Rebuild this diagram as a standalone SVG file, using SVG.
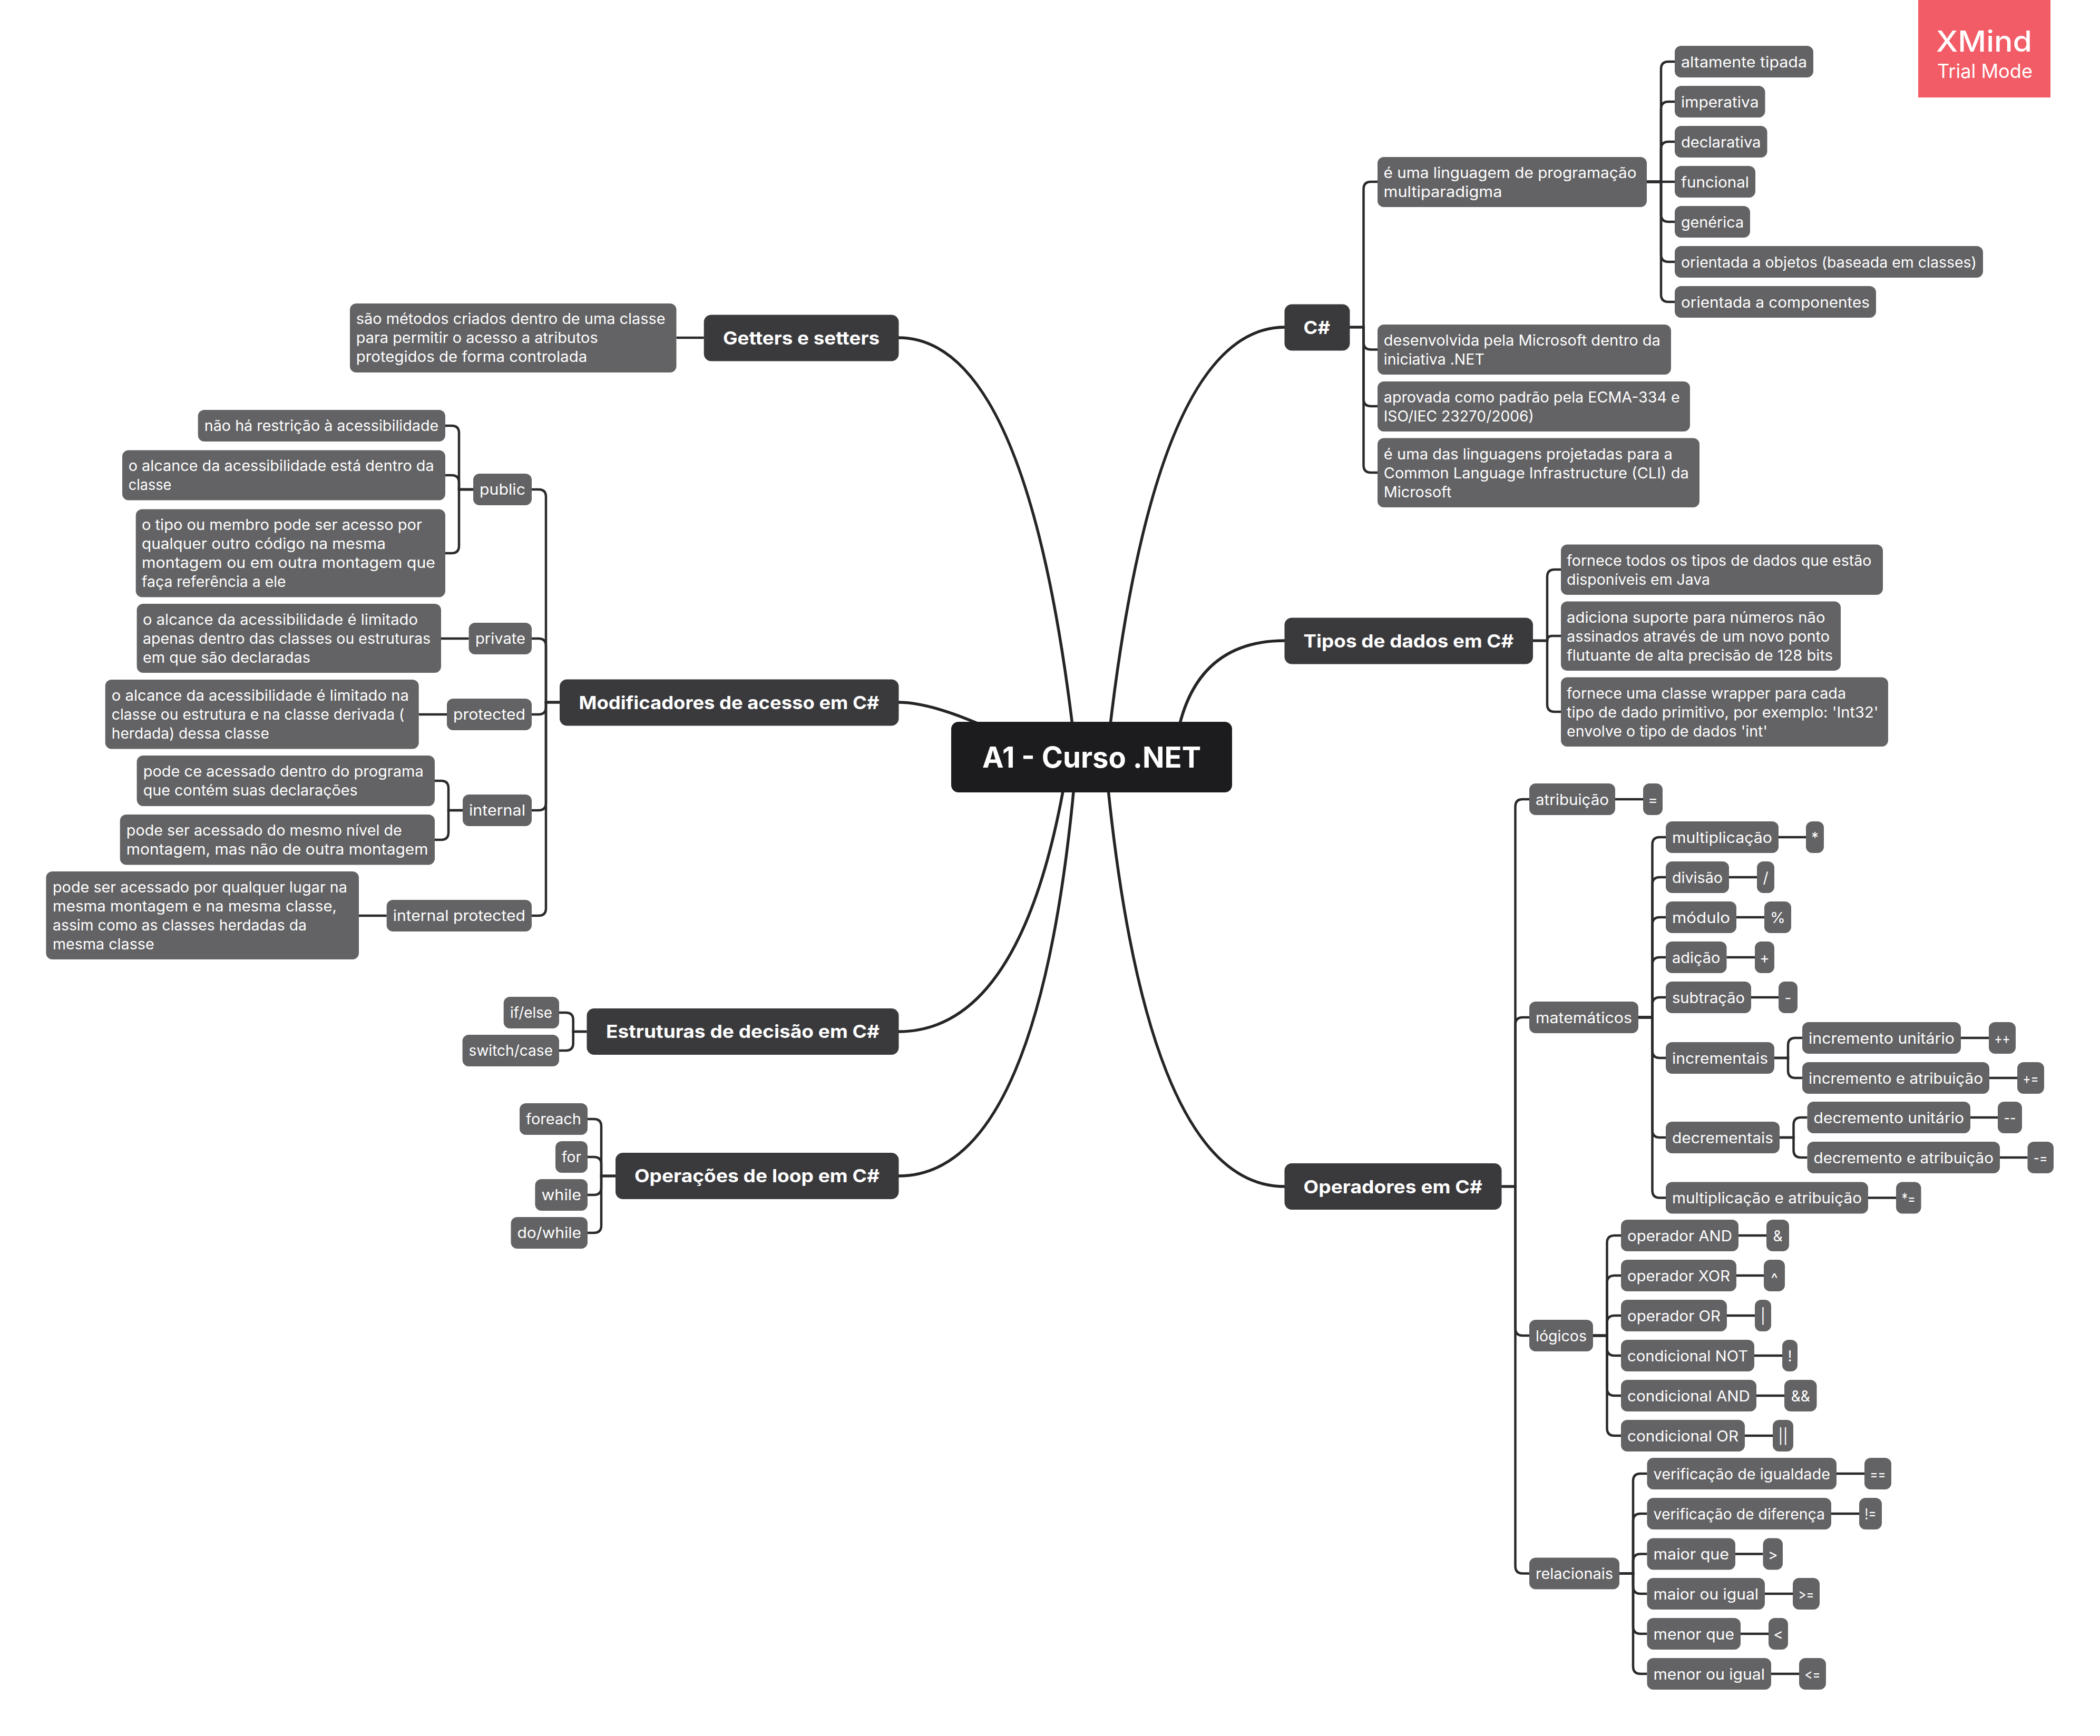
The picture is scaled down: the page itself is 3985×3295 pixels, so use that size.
<svg xmlns="http://www.w3.org/2000/svg" width="3985" height="3295" viewBox="0 0 3985 3295">
<style>
text{fill:#fff;font-family:Inter,"Noto Sans","Liberation Sans",sans-serif}
.t{font-size:28px;transform:translateY(-0.7px)}
.o{font-size:28px;text-anchor:middle}
.m{font-size:34px;font-weight:700}
.c{font-size:55px;font-weight:700}
.s{fill:#636365}
.d{fill:#3a3a3d}
.k{fill:#1c1c1e}
#connectors path{fill:none;stroke:#2a2a2c;stroke-width:4.5}
#connectors .cv{stroke:#252527;stroke-width:5.5}
</style>
<rect width="3985" height="3295" fill="#fff"/>
<g id="connectors">
<path class="cv" d="M2042 1437Q1955 641 1705 641"/>
<path class="cv" d="M1985 1437Q1795 1333 1705 1333"/>
<path class="cv" d="M2028 1437Q1948 1958 1705 1958"/>
<path class="cv" d="M2043 1437Q1978 2232 1705 2232"/>
<path class="cv" d="M2100 1437Q2187 621 2438 621"/>
<path class="cv" d="M2228 1437Q2250 1216 2438 1216"/>
<path class="cv" d="M2097 1437Q2171 2252 2438 2252"/>
<path d="M2561.5 621H2587.5V359Q2587.5 345 2601.5 345H2614"/>
<path d="M2561.5 621H2587.5V649.5Q2587.5 663.5 2601.5 663.5H2614"/>
<path d="M2561.5 621H2587.5V757Q2587.5 771 2601.5 771H2614"/>
<path d="M2561.5 621H2587.5V883Q2587.5 897 2601.5 897H2614"/>
<path d="M3125 345H3152V131Q3152 117 3166 117H3178"/>
<path d="M3125 345H3152V207Q3152 193 3166 193H3178"/>
<path d="M3125 345H3152V283Q3152 269 3166 269H3178"/>
<path d="M3125 345H3178"/>
<path d="M3125 345H3152V407Q3152 421 3166 421H3178"/>
<path d="M3125 345H3152V483Q3152 497 3166 497H3178"/>
<path d="M3125 345H3152V559Q3152 573 3166 573H3178"/>
<path d="M2909 1216H2936V1095Q2936 1081 2950 1081H2962"/>
<path d="M2909 1216H2936Q2936 1207 2945 1207H2962"/>
<path d="M2909 1216H2936V1337Q2936 1351 2950 1351H2962"/>
<path d="M2849.5 2252H2875.5V1531Q2875.5 1517 2889.5 1517H2902"/>
<path d="M2849.5 2252H2875.5V1945Q2875.5 1931 2889.5 1931H2902"/>
<path d="M2849.5 2252H2875.5V2521Q2875.5 2535 2889.5 2535H2902"/>
<path d="M2849.5 2252H2875.5V2972.6Q2875.5 2986.6 2889.5 2986.6H2902"/>
<path d="M3065 1517H3118"/>
<path d="M3109 1931H3135.5V1603Q3135.5 1589 3149.5 1589H3161"/>
<path d="M3109 1931H3135.5V1679Q3135.5 1665 3149.5 1665H3161"/>
<path d="M3109 1931H3135.5V1755Q3135.5 1741 3149.5 1741H3161"/>
<path d="M3109 1931H3135.5V1831Q3135.5 1817 3149.5 1817H3161"/>
<path d="M3109 1931H3135.5V1907Q3135.5 1893 3149.5 1893H3161"/>
<path d="M3109 1931H3135.5V1994Q3135.5 2008 3149.5 2008H3161"/>
<path d="M3109 1931H3135.5V2145Q3135.5 2159 3149.5 2159H3161"/>
<path d="M3109 1931H3135.5V2259.5Q3135.5 2273.5 3149.5 2273.5H3161"/>
<path d="M3375 1589H3427M3281 1665H3334M3295 1741H3348M3276.5 1817H3330M3323 1893H3375"/>
<path d="M3367 2008H3393V1984Q3393 1970 3407 1970H3420"/>
<path d="M3367 2008H3393V2032Q3393 2046 3407 2046H3420"/>
<path d="M3721 1970H3774M3775 2046H3828"/>
<path d="M3377 2159H3403.5V2135Q3403.5 2121 3417.5 2121H3429.5"/>
<path d="M3377 2159H3403.5V2183Q3403.5 2197 3417.5 2197H3429.5"/>
<path d="M3739 2121H3791M3795 2197H3847.5M3545 2273.5H3598"/>
<path d="M3023 2535H3049.5V2359Q3049.5 2345 3063.5 2345H3076"/>
<path d="M3023 2535H3049.5V2435Q3049.5 2421 3063.5 2421H3076"/>
<path d="M3023 2535H3049.5V2511Q3049.5 2497 3063.5 2497H3076"/>
<path d="M3023 2535H3049.5V2559Q3049.5 2573 3063.5 2573H3076"/>
<path d="M3023 2535H3049.5V2635Q3049.5 2649 3063.5 2649H3076"/>
<path d="M3023 2535H3049.5V2711Q3049.5 2725 3063.5 2725H3076"/>
<path d="M3299 2345H3352M3295 2421H3347M3277 2497H3330M3329 2573H3382M3333 2649H3386M3311 2725H3364"/>
<path d="M3073 2986.6H3099V2811Q3099 2797 3113 2797H3125.5"/>
<path d="M3073 2986.6H3099V2887Q3099 2873 3113 2873H3125.5"/>
<path d="M3073 2986.6H3099V2963.6Q3099 2949.6 3113 2949.6H3125.5"/>
<path d="M3073 2986.6H3099V3011Q3099 3025 3113 3025H3125.5"/>
<path d="M3073 2986.6H3099V3087Q3099 3101 3113 3101H3125.5"/>
<path d="M3073 2986.6H3099V3163Q3099 3177 3113 3177H3125.5"/>
<path d="M3485 2797H3538M3475 2873H3528M3293 2949.6H3345.5M3349 3025H3402M3303 3101H3356M3361 3177H3414"/>
<path d="M1335.7 641H1283.5"/>
<path d="M1062 1333H1036V943Q1036 929 1022 929H1009"/>
<path d="M1062 1333H1036V1226Q1036 1212 1022 1212H1009"/>
<path d="M1062 1333H1036V1342Q1036 1356 1022 1356H1009"/>
<path d="M1062 1333H1036V1524Q1036 1538 1022 1538H1009"/>
<path d="M1062 1333H1036V1724Q1036 1738 1022 1738H1009"/>
<path d="M898 929H871V822Q871 808 857 808H845"/>
<path d="M898 929H871V916Q871 902 857 902H845"/>
<path d="M898 929H871V1036Q871 1050 857 1050H845"/>
<path d="M889.6 1212H837M848 1356H794.7M733.7 1738H681"/>
<path d="M878 1538H851V1496Q851 1482 837 1482H825"/>
<path d="M878 1538H851V1580Q851 1594 837 1594H825"/>
<path d="M1113.5 1958H1087.7V1936Q1087.7 1922 1073.7 1922H1061"/>
<path d="M1113.5 1958H1087.7V1980Q1087.7 1994 1073.7 1994H1061"/>
<path d="M1168 2232H1141V2138Q1141 2124 1127 2124H1115"/>
<path d="M1168 2232H1141V2210Q1141 2196 1127 2196H1115"/>
<path d="M1168 2232H1141V2254Q1141 2268 1127 2268H1115"/>
<path d="M1168 2232H1141V2326Q1141 2340 1127 2340H1115"/>
</g>
<g id="root"><rect class="k" x="1805" y="1370" width="533" height="134" rx="14"/><text class="c" x="1864" y="1457" textLength="415" lengthAdjust="spacingAndGlyphs">A1 - Curso .NET</text></g>
<g id="watermark"><rect x="3640" y="0" width="251" height="185" fill="#f25c66"/><text x="3674" y="98" font-size="55" font-weight="500" textLength="182" lengthAdjust="spacingAndGlyphs">XMind</text><text x="3676" y="148" font-size="37" textLength="181" lengthAdjust="spacingAndGlyphs">Trial Mode</text></g>
<g id="csharp"><rect class="d" x="2437.5" y="577.5" width="124" height="88" rx="14"/><text class="m" x="2473.5" y="633.5" textLength="50.5" lengthAdjust="spacingAndGlyphs">C#</text></g>
<g id="tipos"><rect class="d" x="2437.5" y="1172.5" width="471.5" height="88" rx="14"/><text class="m" x="2473.5" y="1228.5" textLength="399" lengthAdjust="spacingAndGlyphs">Tipos de dados em C#</text></g>
<g id="operadores"><rect class="d" x="2437.5" y="2208" width="412" height="88" rx="14"/><text class="m" x="2473.5" y="2265" textLength="339.5" lengthAdjust="spacingAndGlyphs">Operadores em C#</text></g>
<g id="getters"><rect class="d" x="1335.7" y="597.5" width="369.8" height="88" rx="14"/><text class="m" x="1372" y="653.5" textLength="297" lengthAdjust="spacingAndGlyphs">Getters e setters</text></g>
<g id="modificadores"><rect class="d" x="1062" y="1289.5" width="643.5" height="88" rx="14"/><text class="m" x="1098.5" y="1345.5" textLength="570" lengthAdjust="spacingAndGlyphs">Modificadores de acesso em C#</text></g>
<g id="estruturas"><rect class="d" x="1113.5" y="1914" width="592" height="88" rx="14"/><text class="m" x="1150" y="1969.5" textLength="519" lengthAdjust="spacingAndGlyphs">Estruturas de decisão em C#</text></g>
<g id="operacoes"><rect class="d" x="1168" y="2188" width="537.5" height="88" rx="14"/><text class="m" x="1204" y="2243.5" textLength="465" lengthAdjust="spacingAndGlyphs">Operações de loop em C#</text></g>
<g id="c1"><rect class="s" x="2614" y="298" width="511" height="95" rx="12"/><text class="t" x="2625.5" y="338.5" textLength="480" lengthAdjust="spacingAndGlyphs">é uma linguagem de programação</text><text class="t" x="2625.5" y="374.5" textLength="225" lengthAdjust="spacingAndGlyphs">multiparadigma</text></g>
<g id="c2"><rect class="s" x="2614" y="616" width="557" height="95" rx="12"/><text class="t" x="2625.8" y="656.5" textLength="525" lengthAdjust="spacingAndGlyphs">desenvolvida pela Microsoft dentro da</text><text class="t" x="2625.8" y="692.5" textLength="191" lengthAdjust="spacingAndGlyphs">iniciativa .NET</text></g>
<g id="c3"><rect class="s" x="2614" y="724" width="593" height="95" rx="12"/><text class="t" x="2625.8" y="764.5" textLength="562" lengthAdjust="spacingAndGlyphs">aprovada como padrão pela ECMA-334 e</text><text class="t" x="2625.8" y="800.5" textLength="285" lengthAdjust="spacingAndGlyphs">ISO/IEC 23270/2006)</text></g>
<g id="c4"><rect class="s" x="2614" y="831.5" width="611" height="131.5" rx="12"/><text class="t" x="2625.8" y="872.5" textLength="548" lengthAdjust="spacingAndGlyphs">é uma das linguagens projetadas para a</text><text class="t" x="2625.8" y="908.5" textLength="579" lengthAdjust="spacingAndGlyphs">Common Language Infrastructure (CLI) da</text><text class="t" x="2625.8" y="944.5" textLength="128.5" lengthAdjust="spacingAndGlyphs">Microsoft</text></g>
<g id="c1a"><rect class="s" x="3178" y="87" width="263" height="60" rx="12"/><text class="t" x="3190" y="128.5" textLength="239" lengthAdjust="spacingAndGlyphs">altamente tipada</text></g>
<g id="c1b"><rect class="s" x="3178" y="163" width="171.5" height="60" rx="12"/><text class="t" x="3190" y="204.5" textLength="147.5" lengthAdjust="spacingAndGlyphs">imperativa</text></g>
<g id="c1c"><rect class="s" x="3178" y="239" width="175.5" height="60" rx="12"/><text class="t" x="3190" y="280.5" textLength="151.5" lengthAdjust="spacingAndGlyphs">declarativa</text></g>
<g id="c1d"><rect class="s" x="3178" y="315" width="153" height="60" rx="12"/><text class="t" x="3190" y="356.5" textLength="129" lengthAdjust="spacingAndGlyphs">funcional</text></g>
<g id="c1e"><rect class="s" x="3178" y="391" width="143" height="60" rx="12"/><text class="t" x="3190" y="432.5" textLength="119" lengthAdjust="spacingAndGlyphs">genérica</text></g>
<g id="c1f"><rect class="s" x="3178" y="467" width="585" height="60" rx="12"/><text class="t" x="3190" y="508.5" textLength="561" lengthAdjust="spacingAndGlyphs">orientada a objetos (baseada em classes)</text></g>
<g id="c1g"><rect class="s" x="3178" y="543" width="382" height="60" rx="12"/><text class="t" x="3190" y="584.5" textLength="358" lengthAdjust="spacingAndGlyphs">orientada a componentes</text></g>
<g id="t1"><rect class="s" x="2962" y="1033.5" width="611" height="95.5" rx="12"/><text class="t" x="2973" y="1074.5" textLength="578.5" lengthAdjust="spacingAndGlyphs">fornece todos os tipos de dados que estão</text><text class="t" x="2973" y="1110.5" textLength="272" lengthAdjust="spacingAndGlyphs">disponíveis em Java</text></g>
<g id="t2"><rect class="s" x="2962" y="1141.5" width="531" height="131.5" rx="12"/><text class="t" x="2973" y="1182.5" textLength="490.5" lengthAdjust="spacingAndGlyphs">adiciona suporte para números não</text><text class="t" x="2973" y="1218.5" textLength="499" lengthAdjust="spacingAndGlyphs">assinados através de um novo ponto</text><text class="t" x="2973" y="1254.5" textLength="505" lengthAdjust="spacingAndGlyphs">flutuante de alta precisão de 128 bits</text></g>
<g id="t3"><rect class="s" x="2962" y="1285.5" width="621" height="131.5" rx="12"/><text class="t" x="2973" y="1326.5" textLength="530" lengthAdjust="spacingAndGlyphs">fornece uma classe wrapper para cada</text><text class="t" x="2973" y="1362.5" textLength="591.5" lengthAdjust="spacingAndGlyphs">tipo de dado primitivo, por exemplo: 'Int32'</text><text class="t" x="2973" y="1398.5" textLength="381" lengthAdjust="spacingAndGlyphs">envolve o tipo de dados 'int'</text></g>
<g id="o1"><rect class="s" x="2902" y="1487" width="163" height="60" rx="12"/><text class="t" x="2914" y="1528.5" textLength="139" lengthAdjust="spacingAndGlyphs">atribuição</text></g>
<g id="o1a"><rect class="s" x="3118" y="1487" width="37" height="60" rx="12"/><text class="o" x="3136.5" y="1528">=</text></g>
<g id="o2"><rect class="s" x="2902" y="1901" width="207" height="60" rx="12"/><text class="t" x="2914" y="1942.5" textLength="183" lengthAdjust="spacingAndGlyphs">matemáticos</text></g>
<g id="m1"><rect class="s" x="3161" y="1559" width="214" height="60" rx="12"/><text class="t" x="3173" y="1600.5" textLength="190" lengthAdjust="spacingAndGlyphs">multiplicação</text></g>
<g id="m1a"><rect class="s" x="3427" y="1559" width="34" height="60" rx="12"/><text class="o" x="3444" y="1600">*</text></g>
<g id="m2"><rect class="s" x="3161" y="1635" width="120" height="60" rx="12"/><text class="t" x="3173" y="1676.5" textLength="96" lengthAdjust="spacingAndGlyphs">divisão</text></g>
<g id="m2a"><rect class="s" x="3334" y="1635" width="33" height="60" rx="12"/><text class="o" x="3350.5" y="1676">/</text></g>
<g id="m3"><rect class="s" x="3161" y="1711" width="134" height="60" rx="12"/><text class="t" x="3173" y="1752.5" textLength="110" lengthAdjust="spacingAndGlyphs">módulo</text></g>
<g id="m3a"><rect class="s" x="3348" y="1711" width="51" height="60" rx="12"/><text class="o" x="3373.5" y="1752" textLength="29" lengthAdjust="spacingAndGlyphs">%</text></g>
<g id="m4"><rect class="s" x="3161" y="1787" width="115.5" height="60" rx="12"/><text class="t" x="3173" y="1828.5" textLength="91.5" lengthAdjust="spacingAndGlyphs">adição</text></g>
<g id="m4a"><rect class="s" x="3330" y="1787" width="37" height="60" rx="12"/><text class="o" x="3348.5" y="1828">+</text></g>
<g id="m5"><rect class="s" x="3161" y="1863" width="162" height="60" rx="12"/><text class="t" x="3173" y="1904.5" textLength="138" lengthAdjust="spacingAndGlyphs">subtração</text></g>
<g id="m5a"><rect class="s" x="3375" y="1863" width="36" height="60" rx="12"/><text class="o" x="3393" y="1904">-</text></g>
<g id="m6"><rect class="s" x="3161" y="1978" width="206" height="60" rx="12"/><text class="t" x="3173" y="2019.5" textLength="182" lengthAdjust="spacingAndGlyphs">incrementais</text></g>
<g id="m6a"><rect class="s" x="3420" y="1940" width="301" height="60" rx="12"/><text class="t" x="3432" y="1981.5" textLength="277" lengthAdjust="spacingAndGlyphs">incremento unitário</text></g>
<g id="m6b"><rect class="s" x="3774" y="1940" width="51" height="60" rx="12"/><text class="o" x="3799.5" y="1981" textLength="30" lengthAdjust="spacingAndGlyphs">++</text></g>
<g id="m6c"><rect class="s" x="3420" y="2016" width="355" height="60" rx="12"/><text class="t" x="3432" y="2057.5" textLength="331" lengthAdjust="spacingAndGlyphs">incremento e atribuição</text></g>
<g id="m6d"><rect class="s" x="3828" y="2016" width="51" height="60" rx="12"/><text class="o" x="3853.5" y="2057" textLength="30" lengthAdjust="spacingAndGlyphs">+=</text></g>
<g id="m7"><rect class="s" x="3161" y="2129" width="216" height="60" rx="12"/><text class="t" x="3173" y="2170.5" textLength="192" lengthAdjust="spacingAndGlyphs">decrementais</text></g>
<g id="m7a"><rect class="s" x="3429.5" y="2091" width="309.5" height="60" rx="12"/><text class="t" x="3441.5" y="2132.5" textLength="285.5" lengthAdjust="spacingAndGlyphs">decremento unitário</text></g>
<g id="m7b"><rect class="s" x="3791" y="2091" width="46" height="60" rx="12"/><text class="o" x="3814" y="2132" textLength="23" lengthAdjust="spacingAndGlyphs">--</text></g>
<g id="m7c"><rect class="s" x="3429.5" y="2167" width="365.5" height="60" rx="12"/><text class="t" x="3441.5" y="2208.5" textLength="341.5" lengthAdjust="spacingAndGlyphs">decremento e atribuição</text></g>
<g id="m7d"><rect class="s" x="3847.5" y="2167" width="49.5" height="60" rx="12"/><text class="o" x="3872.2" y="2208" textLength="27" lengthAdjust="spacingAndGlyphs">-=</text></g>
<g id="m8"><rect class="s" x="3161" y="2243.5" width="384" height="60" rx="12"/><text class="t" x="3173" y="2285" textLength="360" lengthAdjust="spacingAndGlyphs">multiplicação e atribuição</text></g>
<g id="m8a"><rect class="s" x="3598" y="2243.5" width="47.5" height="60" rx="12"/><text class="o" x="3621.7" y="2284.5" textLength="26" lengthAdjust="spacingAndGlyphs">*=</text></g>
<g id="o3"><rect class="s" x="2902" y="2505" width="121" height="60" rx="12"/><text class="t" x="2914" y="2546.5" textLength="97" lengthAdjust="spacingAndGlyphs">lógicos</text></g>
<g id="l1"><rect class="s" x="3076" y="2315" width="223" height="60" rx="12"/><text class="t" x="3088" y="2356.5" textLength="199" lengthAdjust="spacingAndGlyphs">operador AND</text></g>
<g id="l1a"><rect class="s" x="3352" y="2315" width="43" height="60" rx="12"/><text class="o" x="3373.5" y="2356">&amp;</text></g>
<g id="l2"><rect class="s" x="3076" y="2391" width="219" height="60" rx="12"/><text class="t" x="3088" y="2432.5" textLength="195" lengthAdjust="spacingAndGlyphs">operador XOR</text></g>
<g id="l2a"><rect class="s" x="3347" y="2391" width="40" height="60" rx="12"/><text class="o" x="3367" y="2437">^</text></g>
<g id="l3"><rect class="s" x="3076" y="2467" width="201" height="60" rx="12"/><text class="t" x="3088" y="2508.5" textLength="177" lengthAdjust="spacingAndGlyphs">operador OR</text></g>
<g id="l3a"><rect class="s" x="3330" y="2467" width="31" height="60" rx="12"/><text class="o" x="3345.5" y="2508">|</text></g>
<g id="l4"><rect class="s" x="3076" y="2543" width="253" height="60" rx="12"/><text class="t" x="3088" y="2584.5" textLength="229" lengthAdjust="spacingAndGlyphs">condicional NOT</text></g>
<g id="l4a"><rect class="s" x="3382" y="2543" width="29" height="60" rx="12"/><text class="o" x="3396.5" y="2584">!</text></g>
<g id="l5"><rect class="s" x="3076" y="2619" width="257" height="60" rx="12"/><text class="t" x="3088" y="2660.5" textLength="233" lengthAdjust="spacingAndGlyphs">condicional AND</text></g>
<g id="l5a"><rect class="s" x="3386" y="2619" width="61.5" height="60" rx="12"/><text class="o" x="3416.7" y="2660">&amp;&amp;</text></g>
<g id="l6"><rect class="s" x="3076" y="2695" width="235" height="60" rx="12"/><text class="t" x="3088" y="2736.5" textLength="211" lengthAdjust="spacingAndGlyphs">condicional OR</text></g>
<g id="l6a"><rect class="s" x="3364" y="2695" width="39" height="60" rx="12"/><text class="o" x="3383.5" y="2736">||</text></g>
<g id="o4"><rect class="s" x="2902" y="2956.6" width="171" height="60" rx="12"/><text class="t" x="2914" y="2998" textLength="147" lengthAdjust="spacingAndGlyphs">relacionais</text></g>
<g id="r1"><rect class="s" x="3125.5" y="2767" width="359.5" height="60" rx="12"/><text class="t" x="3137.5" y="2808.5" textLength="335.5" lengthAdjust="spacingAndGlyphs">verificação de igualdade</text></g>
<g id="r1a"><rect class="s" x="3538" y="2767" width="51" height="60" rx="12"/><text class="o" x="3563.5" y="2808" textLength="30" lengthAdjust="spacingAndGlyphs">==</text></g>
<g id="r2"><rect class="s" x="3125.5" y="2843" width="349.5" height="60" rx="12"/><text class="t" x="3137.5" y="2884.5" textLength="325.5" lengthAdjust="spacingAndGlyphs">verificação de diferença</text></g>
<g id="r2a"><rect class="s" x="3528" y="2843" width="43" height="60" rx="12"/><text class="o" x="3549.5" y="2884" textLength="22" lengthAdjust="spacingAndGlyphs">!=</text></g>
<g id="r3"><rect class="s" x="3125.5" y="2919.6" width="167.5" height="60" rx="12"/><text class="t" x="3137.5" y="2961" textLength="143.5" lengthAdjust="spacingAndGlyphs">maior que</text></g>
<g id="r3a"><rect class="s" x="3345.5" y="2919.6" width="37.5" height="60" rx="12"/><text class="o" x="3364.2" y="2960.5">&gt;</text></g>
<g id="r4"><rect class="s" x="3125.5" y="2995" width="223.5" height="60" rx="12"/><text class="t" x="3137.5" y="3036.5" textLength="199.5" lengthAdjust="spacingAndGlyphs">maior ou igual</text></g>
<g id="r4a"><rect class="s" x="3402" y="2995" width="51" height="60" rx="12"/><text class="o" x="3427.5" y="3036" textLength="30" lengthAdjust="spacingAndGlyphs">&gt;=</text></g>
<g id="r5"><rect class="s" x="3125.5" y="3071" width="177.5" height="60" rx="12"/><text class="t" x="3137.5" y="3112.5" textLength="153.5" lengthAdjust="spacingAndGlyphs">menor que</text></g>
<g id="r5a"><rect class="s" x="3356" y="3071" width="37" height="60" rx="12"/><text class="o" x="3374.5" y="3112">&lt;</text></g>
<g id="r6"><rect class="s" x="3125.5" y="3147" width="235.5" height="60" rx="12"/><text class="t" x="3137.5" y="3188.5" textLength="211.5" lengthAdjust="spacingAndGlyphs">menor ou igual</text></g>
<g id="r6a"><rect class="s" x="3414" y="3147" width="51" height="60" rx="12"/><text class="o" x="3439.5" y="3188" textLength="30" lengthAdjust="spacingAndGlyphs">&lt;=</text></g>
<g id="g1"><rect class="s" x="664" y="576" width="619.5" height="131" rx="12"/><text class="t" x="675.7" y="616" textLength="587" lengthAdjust="spacingAndGlyphs">são métodos criados dentro de uma classe</text><text class="t" x="675.7" y="652" textLength="459" lengthAdjust="spacingAndGlyphs">para permitir o acesso a atributos</text><text class="t" x="675.7" y="688" textLength="438.5" lengthAdjust="spacingAndGlyphs">protegidos de forma controlada</text></g>
<g id="public"><rect class="s" x="898" y="899" width="111" height="60" rx="12"/><text class="t" x="910" y="940" textLength="87" lengthAdjust="spacingAndGlyphs">public</text></g>
<g id="private"><rect class="s" x="889.6" y="1182" width="119.4" height="60" rx="12"/><text class="t" x="902" y="1223" textLength="95" lengthAdjust="spacingAndGlyphs">private</text></g>
<g id="protected"><rect class="s" x="848" y="1326" width="161" height="60" rx="12"/><text class="t" x="860" y="1367" textLength="137" lengthAdjust="spacingAndGlyphs">protected</text></g>
<g id="internal"><rect class="s" x="878" y="1508" width="131" height="60" rx="12"/><text class="t" x="890" y="1549" textLength="107" lengthAdjust="spacingAndGlyphs">internal</text></g>
<g id="internalprotected"><rect class="s" x="733.7" y="1708" width="275.3" height="60" rx="12"/><text class="t" x="745.7" y="1749" textLength="251.3" lengthAdjust="spacingAndGlyphs">internal protected</text></g>
<g id="p1"><rect class="s" x="375.7" y="778" width="469.3" height="60" rx="12"/><text class="t" x="387.8" y="819" textLength="444.5" lengthAdjust="spacingAndGlyphs">não há restrição à acessibilidade</text></g>
<g id="p2"><rect class="s" x="232" y="854.5" width="613" height="95" rx="12"/><text class="t" x="243.7" y="895" textLength="580" lengthAdjust="spacingAndGlyphs">o alcance da acessibilidade está dentro da</text><text class="t" x="243.7" y="931" textLength="81.6" lengthAdjust="spacingAndGlyphs">classe</text></g>
<g id="p3"><rect class="s" x="257.7" y="966.5" width="587.3" height="167" rx="12"/><text class="t" x="269" y="1007" textLength="532" lengthAdjust="spacingAndGlyphs">o tipo ou membro pode ser acesso por</text><text class="t" x="269" y="1043" textLength="463" lengthAdjust="spacingAndGlyphs">qualquer outro código na mesma</text><text class="t" x="269" y="1079" textLength="557" lengthAdjust="spacingAndGlyphs">montagem ou em outra montagem que</text><text class="t" x="269" y="1115" textLength="273.6" lengthAdjust="spacingAndGlyphs">faça referência a ele</text></g>
<g id="p4"><rect class="s" x="259.6" y="1146" width="577.4" height="131" rx="12"/><text class="t" x="271" y="1187" textLength="522" lengthAdjust="spacingAndGlyphs">o alcance da acessibilidade é limitado</text><text class="t" x="271" y="1223" textLength="546" lengthAdjust="spacingAndGlyphs">apenas dentro das classes ou estruturas</text><text class="t" x="271" y="1259" textLength="318" lengthAdjust="spacingAndGlyphs">em que são declaradas</text></g>
<g id="p5"><rect class="s" x="199.7" y="1290" width="595" height="131.5" rx="12"/><text class="t" x="211.8" y="1331" textLength="564" lengthAdjust="spacingAndGlyphs">o alcance da acessibilidade é limitado na</text><text class="t" x="211.8" y="1367" textLength="555.5" lengthAdjust="spacingAndGlyphs">classe ou estrutura e na classe derivada (</text><text class="t" x="211.8" y="1403" textLength="299" lengthAdjust="spacingAndGlyphs">herdada) dessa classe</text></g>
<g id="p6"><rect class="s" x="259.6" y="1434" width="565.4" height="96" rx="12"/><text class="t" x="271.7" y="1475" textLength="532" lengthAdjust="spacingAndGlyphs">pode ce acessado dentro do programa</text><text class="t" x="271.7" y="1511" textLength="407" lengthAdjust="spacingAndGlyphs">que contém suas declarações</text></g>
<g id="p7"><rect class="s" x="227.7" y="1546" width="597.3" height="95.5" rx="12"/><text class="t" x="239.8" y="1587" textLength="523" lengthAdjust="spacingAndGlyphs">pode ser acessado do mesmo nível de</text><text class="t" x="239.8" y="1623" textLength="572.7" lengthAdjust="spacingAndGlyphs">montagem, mas não de outra montagem</text></g>
<g id="p8"><rect class="s" x="87.4" y="1654" width="593.6" height="167" rx="12"/><text class="t" x="100" y="1694.5" textLength="559" lengthAdjust="spacingAndGlyphs">pode ser acessado por qualquer lugar na</text><text class="t" x="100" y="1730.5" textLength="539" lengthAdjust="spacingAndGlyphs">mesma montagem e na mesma classe,</text><text class="t" x="100" y="1766.5" textLength="482" lengthAdjust="spacingAndGlyphs">assim como as classes herdadas da</text><text class="t" x="100" y="1802.5" textLength="192.6" lengthAdjust="spacingAndGlyphs">mesma classe</text></g>
<g id="e1"><rect class="s" x="955.7" y="1892" width="105.3" height="60" rx="12"/><text class="t" x="968" y="1933" textLength="80" lengthAdjust="spacingAndGlyphs">if/else</text></g>
<g id="e2"><rect class="s" x="877.6" y="1964" width="183.4" height="60" rx="12"/><text class="t" x="889.6" y="2005" textLength="159.4" lengthAdjust="spacingAndGlyphs">switch/case</text></g>
<g id="l_foreach"><rect class="s" x="986" y="2094" width="129" height="60" rx="12"/><text class="t" x="998" y="2135" textLength="105" lengthAdjust="spacingAndGlyphs">foreach</text></g>
<g id="l_for"><rect class="s" x="1054" y="2166" width="61" height="60" rx="12"/><text class="t" x="1066" y="2207" textLength="37" lengthAdjust="spacingAndGlyphs">for</text></g>
<g id="l_while"><rect class="s" x="1015.4" y="2238" width="99.6" height="60" rx="12"/><text class="t" x="1027.4" y="2279" textLength="75.6" lengthAdjust="spacingAndGlyphs">while</text></g>
<g id="l_dowhile"><rect class="s" x="969.5" y="2310" width="145.5" height="60" rx="12"/><text class="t" x="981.5" y="2351" textLength="121.5" lengthAdjust="spacingAndGlyphs">do/while</text></g>
</svg>
